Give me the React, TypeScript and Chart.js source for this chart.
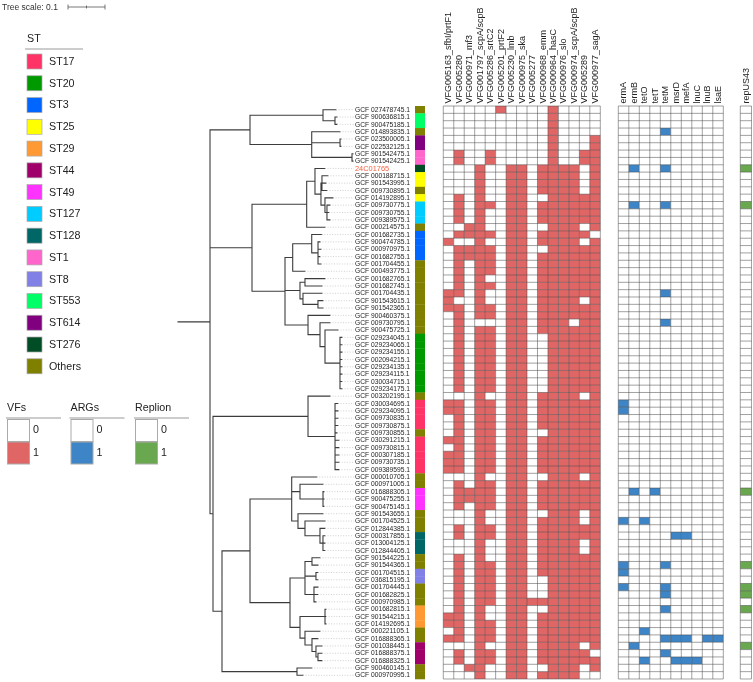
import React, { useEffect, useRef } from 'react';
import { Chart, registerables } from 'chart.js';
Chart.register(...registerables);

const W = 753;
const H = 682;

// ---------------- DATA ----------------
const LEAF_NAMES = [
  'GCF 027478745.1','GCF 900636815.1','GCF 900475185.1','GCF 014893835.1','GCF 023500005.1','GCF 022532125.1','GCF 901542475.1','GCF 901542425.1','24C01765','GCF 000188715.1',
  'GCF 901543995.1','GCF 009730895.1','GCF 014192895.1','GCF 009730775.1','GCF 009730755.1','GCF 009389575.1','GCF 000214575.1','GCF 001682735.1','GCF 900474785.1','GCF 000970975.1',
  'GCF 001682755.1','GCF 001704455.1','GCF 000493775.1','GCF 001682765.1','GCF 001682745.1','GCF 001704435.1','GCF 901543615.1','GCF 901542365.1','GCF 900460375.1','GCF 009730795.1',
  'GCF 900475725.1','GCF 029234045.1','GCF 029234065.1','GCF 029234155.1','GCF 002094215.1','GCF 029234135.1','GCF 029234115.1','GCF 030034715.1','GCF 029234175.1','GCF 003202195.1',
  'GCF 030034695.1','GCF 029234095.1','GCF 009730835.1','GCF 009730875.1','GCF 009730855.1','GCF 030291215.1','GCF 009730815.1','GCF 000307185.1','GCF 009730735.1','GCF 009389595.1',
  'GCF 000010705.1','GCF 000971005.1','GCF 016888305.1','GCF 900475255.1','GCF 900475145.1','GCF 901543655.1','GCF 001704525.1','GCF 012844385.1','GCF 000317855.1','GCF 013004125.1',
  'GCF 012844405.1','GCF 901544225.1','GCF 901544365.1','GCF 001704515.1','GCF 036815195.1','GCF 001704445.1','GCF 001682825.1','GCF 000970985.1','GCF 001682815.1','GCF 901544215.1',
  'GCF 014192695.1','GCF 000221105.1','GCF 016888365.1','GCF 001038445.1','GCF 016888375.1','GCF 016888325.1','GCF 900460145.1','GCF 000970995.1',
];
const HIGHLIGHT_LEAF = '24C01765';

const LEAF_ST = [
  'Others','ST553','ST553','Others','ST614','ST614','ST1','ST1','ST276','ST25',
  'ST25','Others','ST25','ST127','ST127','ST127','Others','ST3','ST3','ST3',
  'ST3','Others','Others','Others','Others','Others','Others','Others','Others','Others',
  'Others','ST20','ST20','ST20','ST20','ST20','ST20','ST20','ST20','Others',
  'ST17','ST17','ST17','ST17','Others','ST17','ST17','ST17','ST17','ST17',
  'Others','Others','ST49','ST49','ST49','Others','Others','Others','ST128','ST128',
  'ST128','Others','Others','ST8','ST8','Others','Others','Others','ST29','ST29',
  'ST29','Others','Others','ST44','ST44','ST44','Others','Others',
];

const ST_NAMES = ['ST17','ST20','ST3','ST25','ST29','ST44','ST49','ST127','ST128','ST1','ST8','ST553','ST614','ST276','Others'];
const ST_COLORS = ['#ff3366','#009900','#0066ff','#ffff00','#ff9933','#a0006a','#ff33ff','#00ccff','#006666','#ff66cc','#8080e6','#00ff66','#800080','#004d26','#808000'];

const VF_GENES = [
  'VFG005163_sfbI/prtF1','VFG005280','VFG000971_mf3','VFG001797_scpA/scpB','VFG005286_srtC2',
  'VFG005201_prtF2','VFG005230_lmb','VFG000975_ska','VFG005277','VFG000968_emm',
  'VFG000964_hasC','VFG000976_slo','VFG000974_scpA/scpB','VFG005289','VFG000977_sagA',
];
const ARG_GENES = ['ermA','ermB','tetO','tetT','tetM','msrD','mefA','lnuC','lnuB','lsaE'];
const REP_GENES = ['repUS43'];

// presence (1) / absence (0) per leaf, columns in the order of the gene lists
const VF_MATRIX = [
  '000001000010000','000000000010000','000000000010000','000000000010000','000000000010001',
  '000000000010001','010010000010011','010010000010011','000100110111101','000100110111101',
  '000100110111101','000100110111101','010100110011111','010110110111111','010100110111111',
  '010100110111111','001100110011101','011110110111110','100100110111101','011110110011111',
  '011110110111111','010110110111111','010110110111111','010100110111111','010110110111111',
  '110100110111111','100100110111101','110110110111111','010110110111111','010000110111011',
  '010110110111111','010110110011111','010110110011111','010110110011111','010110110011111',
  '010110110011111','010110110011111','010110110011111','010110110011111','000100110111101',
  '110110110111111','110110110111111','010110110111111','010110110111111','010110110011111',
  '110110110111111','010110110111111','110110110111111','110110110111111','110110110111111',
  '000100110011101','010110110111111','011110110111111','011110110111111','010110110111111',
  '000100110011101','000100110111101','010110110111111','010110110111111','000100110111101',
  '000100110111101','010100110111111','010110110111111','010110110111111','010110110011111',
  '010110110011111','010110110011111','010110111111111','010100110011111','110100110111111',
  '110110110111111','010110110111111','110110110111111','000100110111101','010110110111110',
  '010110110111111','001100110011101','000100110111100',
];
const ARG_MATRIX = [
  '0000000000','0000000000','0000000000','0000100000','0000000000','0000000000','0000000000','0000000000','0100100000','0000000000',
  '0000000000','0000000000','0000000000','0100100000','0000000000','0000000000','0000000000','0000000000','0000000000','0000000000',
  '0000000000','0000000000','0000000000','0000000000','0000000000','0000100000','0000000000','0000000000','0000000000','0000100000',
  '0000000000','0000000000','0000000000','0000000000','0000000000','0000000000','0000000000','0000000000','0000000000','0000000000',
  '1000000000','1000000000','0000000000','0000000000','0000000000','0000000000','0000000000','0000000000','0000000000','0000000000',
  '0000000000','0000000000','0101000000','0000000000','0000000000','0000000000','1010000000','0000000000','0000011000','0000000000',
  '0000000000','0000000000','1000100000','1000000000','0000000000','1000100000','0000100000','0000000000','0000100000','0000000000',
  '0000000000','0010000000','0000111011','0100000000','0000100000','0010011100','0000000000','0000000000',
];
const REP_MATRIX = [
  '0','0','0','0','0','0','0','0','1','0','0','0','0','1','0','0','0','0','0','0',
  '0','0','0','0','0','0','0','0','0','0','0','0','0','0','0','0','0','0','0','0',
  '0','0','0','0','0','0','0','0','0','0','0','0','1','0','0','0','0','0','0','0',
  '0','0','1','0','0','1','1','0','1','0','0','0','0','1','0','0','0','0',
];

// Newick tree, leaves named by their row number (1 = top), branch lengths in substitutions/site
const TREE_NEWICK =
  '(' +
    // upper clade (rows 1-8)
    '((1:0.0351,(2:0.0054,3:0.0054):0.0324):0.1973,(4:0.0765,(5:0.0027,6:0.0027):0.0765,(7:0.0027,8:0.0027):0.1089):0.1668):0.1081,' +
    // middle clade (rows 9-39)
    '(' +
      '((9:0.027,((10:0.0162,11:0.0108,12:0.0135):0.0027,(13:0.0216,(14:0.0081,15:0.0054,16:0.0081):0.0054):0.0108):0.0162):0.0224,17:0.0495):0.1478,' +
      '(' +
        '((18:0.027,(19:0.0054,20:0.0081,21:0.0054,22:0.0081):0.017):0.0514,23:0.0332):0.0208,' +
        '((24:0.0541,25:0.0459):0.0135,(26:0.0514,(27:0.0135,28:0.0135):0.0405):0.0081):0.0405,' +
        '(29:0.0595,(30:0.027,(31:0.0351,(32:0.0054,33:0.0054,34:0.0054,35:0.0054,36:0.0054,37:0.0054,38:0.0054,39:0.0054):0.0405):0.0135):0.0324):0.0622' +
      '):0.0892' +
    '):0.1135,' +
    // lower clade (rows 40-78)
    '(' +
      '(40:0.0595,(41:0.0081,42:0.0081,43:0.0081,44:0.0081,45:0.0054,46:0.0108,47:0.0108,48:0.0108,49:0.0108,50:0.0108):0.073):0.2568,' +
      '(' +
        '(' +
          '(51:0.0676,(52:0.0622,(53:0.0027,54:0.0027,55:0.0027):0.0622):0.0224,(56:0.0676,(57:0.0541,(58:0.0135,(59:0.0054,60:0.0054,61:0.0054):0.0081):0.0405):0.0189):0.017):0.1127,' +
          '(((62:0.0216,63:0.0162):0.0189,(64:0.0054,65:0.0054):0.0297,(66:0.0108,67:0.0108,68:0.0054):0.0243):0.0405,((69:0.0027,70:0.0027,71:0.0027):0.0676,(72:0.0405,(73:0.0162,(74:0.0162,(75:0.0108,76:0.0108):0.0054):0.0108):0.0189):0.0135):0.027):0.1081' +
        '):0.0757,' +
        '(77:0.0397,78:0.0162):0.2027' +
      '):0.0243' +
    '):0.0081' +
  '):0.0865;';

const TREE_SCALE = 0.1;

// ---------------- LAYOUT (not data) ----------------
const FONT = '"Liberation Sans", Arial, sans-serif';
const LABEL_X = 0.4784; // label start, in tree units
const VF_COLOR = '#e06666';
const ARG_COLOR = '#3d85c6';
const REP_COLOR = '#6aa84f';

type TNode = { children: TNode[]; leaf: number; len: number; x: number; y: number };

function parseNewick(s: string): TNode {
  let i = 0;
  const node = (): TNode => {
    const n: TNode = { children: [], leaf: -1, len: 0, x: 0, y: 0 };
    if (s[i] === '(') {
      i++;
      n.children.push(node());
      while (s[i] === ',') { i++; n.children.push(node()); }
      i++;
    }
    let name = '';
    while (i < s.length && ':,();'.indexOf(s[i]) < 0) name += s[i++];
    if (name.trim()) n.leaf = parseInt(name, 10) - 1;
    if (s[i] === ':') {
      i++;
      let num = '';
      while (i < s.length && ',();'.indexOf(s[i]) < 0) num += s[i++];
      n.len = parseFloat(num);
    }
    return n;
  };
  return node();
}

function layoutTree(n: TNode, px: number) {
  n.x = px + n.len;
  if (n.children.length) {
    n.children.forEach((c) => layoutTree(c, n.x));
    n.y = (n.children[0].y + n.children[n.children.length - 1].y) / 2;
  } else {
    n.y = n.leaf;
  }
}

function buildTree() {
  const root = parseNewick(TREE_NEWICK);
  layoutTree(root, 0);
  const branches: any[] = [];
  const leaders: any[] = [];
  const GAP = { x: null, y: null };
  branches.push({ x: 0, y: root.y }, { x: root.x, y: root.y }, GAP);
  const walk = (n: TNode) => {
    if (n.children.length) {
      const ys = n.children.map((c) => c.y);
      branches.push({ x: n.x, y: Math.min(...ys) }, { x: n.x, y: Math.max(...ys) }, GAP);
      n.children.forEach((c) => {
        branches.push({ x: n.x, y: c.y }, { x: c.x, y: c.y }, GAP);
        walk(c);
      });
    } else {
      leaders.push({ x: n.x, y: n.y }, { x: LABEL_X - 0.003, y: n.y }, GAP);
    }
  };
  walk(root);
  return { branches, leaders };
}

const heatPlugin = {
  id: 'heatmaps',
  afterDatasetsDraw(chart: any) {
    const { ctx, scales } = chart;
    const ys = scales.y;
    const xt = scales.xt;
    const top = (r: number) => ys.getPixelForValue(r - 0.5);
    const bot = (r: number) => ys.getPixelForValue(r + 0.5);
    ctx.save();

    // leaf labels
    ctx.textBaseline = 'middle';
    ctx.textAlign = 'left';
    const lx = xt.getPixelForValue(LABEL_X);
    LEAF_NAMES.forEach((name, r) => {
      const hl = name === HIGHLIGHT_LEAF;
      ctx.font = (hl ? '7.4px ' : '6.7px ') + FONT;
      ctx.fillStyle = hl ? '#f4603c' : '#222';
      ctx.fillText(name, lx, ys.getPixelForValue(r) + 0.3);
    });

    // ST strip
    const xs = scales.xs;
    LEAF_ST.forEach((st, r) => {
      ctx.fillStyle = ST_COLORS[ST_NAMES.indexOf(st)];
      const x0 = xs.getPixelForValue(-0.5);
      const x1 = xs.getPixelForValue(0.5);
      ctx.fillRect(x0, top(r), x1 - x0, bot(r) - top(r) + 0.3);
    });

    const block = (sc: any, genes: string[], mat: string[], color: string) => {
      for (let r = 0; r < mat.length; r++) {
        for (let c = 0; c < genes.length; c++) {
          const x0 = sc.getPixelForValue(c - 0.5);
          const x1 = sc.getPixelForValue(c + 0.5);
          const y0 = top(r);
          const y1 = bot(r);
          ctx.fillStyle = mat[r][c] === '1' ? color : '#ffffff';
          ctx.fillRect(x0, y0, x1 - x0, y1 - y0);
        }
      }
      ctx.strokeStyle = 'rgba(70,70,70,0.85)';
      ctx.lineWidth = 0.6;
      ctx.beginPath();
      for (let r = 0; r <= mat.length; r++) {
        const y = top(r);
        ctx.moveTo(sc.getPixelForValue(-0.5), y);
        ctx.lineTo(sc.getPixelForValue(genes.length - 0.5), y);
      }
      for (let c = 0; c <= genes.length; c++) {
        const x = sc.getPixelForValue(c - 0.5);
        ctx.moveTo(x, top(0));
        ctx.lineTo(x, bot(mat.length - 1));
      }
      ctx.stroke();
      // headers
      ctx.fillStyle = '#222';
      ctx.font = '9px ' + FONT;
      ctx.textAlign = 'left';
      ctx.textBaseline = 'middle';
      genes.forEach((g, c) => {
        ctx.save();
        ctx.translate(sc.getPixelForValue(c) + 0.3, top(0) - 2.5);
        ctx.rotate(-Math.PI / 2);
        ctx.fillText(g, 0, 0);
        ctx.restore();
      });
    };
    block(scales.xv, VF_GENES, VF_MATRIX, VF_COLOR);
    block(scales.xa, ARG_GENES, ARG_MATRIX, ARG_COLOR);
    block(scales.xr, REP_GENES, REP_MATRIX, REP_COLOR);

    // tree scale
    ctx.fillStyle = '#333';
    ctx.font = '8.5px ' + FONT;
    ctx.textBaseline = 'middle';
    ctx.fillText('Tree scale: ' + TREE_SCALE, 2, 7.5);
    const sx0 = 68;
    const sx1 = sx0 + (xt.getPixelForValue(TREE_SCALE) - xt.getPixelForValue(0));
    ctx.strokeStyle = '#555';
    ctx.lineWidth = 0.8;
    ctx.beginPath();
    ctx.moveTo(sx0, 7); ctx.lineTo(sx1, 7);
    [sx0, (sx0 + sx1) / 2, sx1].forEach((x, k) => {
      const hgt = k === 1 ? 1.5 : 2.5;
      ctx.moveTo(x, 7 - hgt); ctx.lineTo(x, 7 + hgt);
    });
    ctx.stroke();

    // ST legend
    ctx.font = '10.7px ' + FONT;
    ctx.fillStyle = '#222';
    ctx.fillText('ST', 27, 39.5);
    ctx.strokeStyle = '#bbb';
    ctx.lineWidth = 1.5;
    ctx.beginPath(); ctx.moveTo(25, 49); ctx.lineTo(83, 49); ctx.stroke();
    ST_NAMES.forEach((st, k) => {
      const yy = 54 + k * 21.77;
      ctx.fillStyle = ST_COLORS[k];
      ctx.fillRect(27, yy, 15, 15);
      ctx.strokeStyle = '#aaa';
      ctx.lineWidth = 0.7;
      ctx.strokeRect(27, yy, 15, 15);
      ctx.fillStyle = '#222';
      ctx.fillText(st, 49, yy + 8);
    });

    // binary legends
    const bin = (title: string, x: number, color: string) => {
      ctx.fillStyle = '#222';
      ctx.font = '10.7px ' + FONT;
      ctx.fillText(title, x, 408);
      ctx.strokeStyle = '#bbb';
      ctx.lineWidth = 1.5;
      ctx.beginPath(); ctx.moveTo(x - 1, 418); ctx.lineTo(x + 54, 418); ctx.stroke();
      ctx.fillStyle = '#fff';
      ctx.fillRect(x + 0.5, 419.5, 22, 22);
      ctx.fillStyle = color;
      ctx.fillRect(x + 0.5, 442, 22, 22);
      ctx.strokeStyle = '#aaa';
      ctx.lineWidth = 1;
      ctx.strokeRect(x + 0.5, 419.5, 22, 22);
      ctx.strokeRect(x + 0.5, 442, 22, 22);
      ctx.fillStyle = '#222';
      ctx.fillText('0', x + 26, 430);
      ctx.fillText('1', x + 26, 453);
    };
    bin('VFs', 7, VF_COLOR);
    bin('ARGs', 70.5, ARG_COLOR);
    bin('Replion', 135, REP_COLOR);

    ctx.restore();
  },
};

export default function App() {
  const ref = useRef<HTMLCanvasElement>(null);
  useEffect(() => {
    const { branches, leaders } = buildTree();
    const lin = (min: number, max: number) => ({
      type: 'linear' as const, min, max, display: false, bounds: 'data' as const, grace: 0,
    });
    const chart = new Chart(ref.current as HTMLCanvasElement, {
      type: 'scatter',
      data: {
        datasets: [
          {
            label: 'leaders', data: leaders, xAxisID: 'xt', yAxisID: 'y', showLine: true,
            borderColor: '#c4c4c4', borderWidth: 0.8, borderDash: [1, 1.6], pointRadius: 0, spanGaps: false,
          } as any,
          {
            label: 'tree', data: branches, xAxisID: 'xt', yAxisID: 'y', showLine: true,
            borderColor: '#3c3c3c', borderWidth: 1.1, pointRadius: 0, spanGaps: false, borderCapStyle: 'square',
          } as any,
        ],
      },
      options: {
        responsive: false,
        animation: false,
        events: [],
        devicePixelRatio: 1,
        layout: { padding: 0, autoPadding: false },
        plugins: { legend: { display: false }, tooltip: { enabled: false } },
        scales: {
          y: { ...lin(-14.93, 77.91), reverse: true },
          xt: lin(-0.48108, 1.55405),
          xs: lin(-42, 33.3),
          xv: lin(-42.852, 29.089),
          xa: lin(-59.386, 12.328),
          xr: lin(-66.598, 0.634),
        },
      } as any,
      plugins: [heatPlugin],
    });
    return () => chart.destroy();
  }, []);
  return (
    <div style={{ position: 'absolute', left: 0, top: 0, width: W, height: H, background: '#fff' }}>
      <canvas ref={ref} width={W} height={H} style={{ width: W, height: H, display: 'block' }} />
    </div>
  );
}
